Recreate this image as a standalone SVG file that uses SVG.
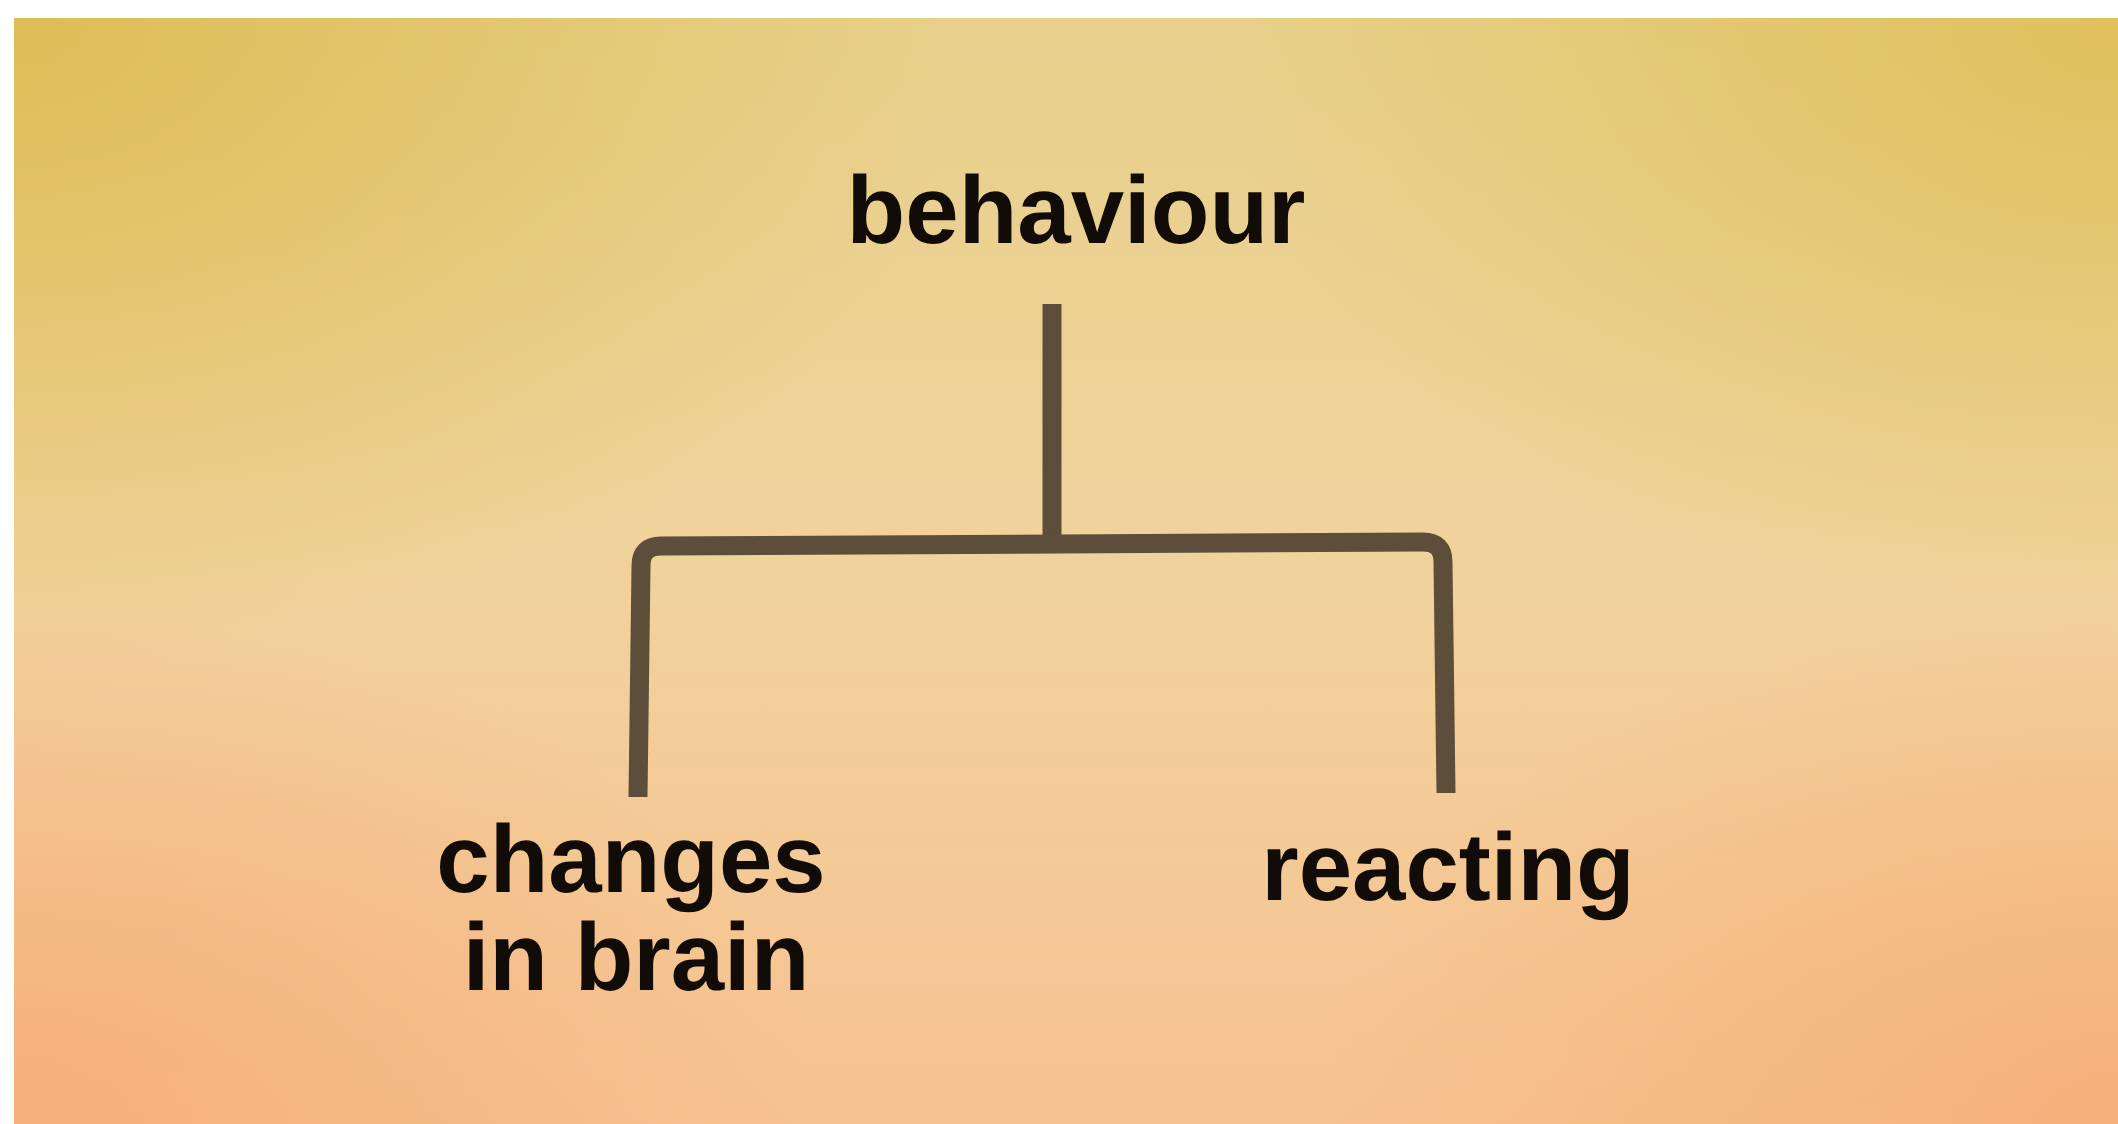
<svg xmlns="http://www.w3.org/2000/svg" width="2118" height="1124" viewBox="0 0 2118 1124">
  <defs>
    <linearGradient id="bgV" x1="0" y1="0" x2="0" y2="1">
      <stop offset="0" stop-color="#E7D08A"/>
      <stop offset="0.5" stop-color="#F1D29C"/>
      <stop offset="1" stop-color="#F6C290"/>
    </linearGradient>
    <radialGradient id="tl" cx="0" cy="0" r="1" gradientUnits="userSpaceOnUse" gradientTransform="translate(14 18) scale(950 650)">
      <stop offset="0" stop-color="#DDBB50" stop-opacity="0.9"/>
      <stop offset="1" stop-color="#DDBB50" stop-opacity="0"/>
    </radialGradient>
    <radialGradient id="tr" cx="0" cy="0" r="1" gradientUnits="userSpaceOnUse" gradientTransform="translate(2118 18) scale(900 600)">
      <stop offset="0" stop-color="#DFBF58" stop-opacity="0.9"/>
      <stop offset="1" stop-color="#DFBF58" stop-opacity="0"/>
    </radialGradient>
    <radialGradient id="bl" cx="0" cy="0" r="1" gradientUnits="userSpaceOnUse" gradientTransform="translate(14 1124) scale(800 520)">
      <stop offset="0" stop-color="#F4AC78" stop-opacity="0.85"/>
      <stop offset="1" stop-color="#F4AC78" stop-opacity="0"/>
    </radialGradient>
    <radialGradient id="br" cx="0" cy="0" r="1" gradientUnits="userSpaceOnUse" gradientTransform="translate(2118 1124) scale(800 520)">
      <stop offset="0" stop-color="#F4AE76" stop-opacity="0.85"/>
      <stop offset="1" stop-color="#F4AE76" stop-opacity="0"/>
    </radialGradient>
  </defs>
  <style>
    .lbl { font-family: "Liberation Sans", Arial, sans-serif; font-weight: bold; font-size: 96px; fill: #120C08; text-anchor: middle; text-rendering: geometricPrecision; }
    .conn { fill: none; stroke: #5C4E3A; stroke-width: 19; stroke-linecap: butt; stroke-linejoin: round; }
  </style>
  <rect x="0" y="0" width="2118" height="1124" fill="#FFFFFF"/>
  <g id="background">
    <rect x="14" y="18" width="2104" height="1106" fill="url(#bgV)"/>
    <rect x="14" y="18" width="2104" height="1106" fill="url(#tl)"/>
    <rect x="14" y="18" width="2104" height="1106" fill="url(#tr)"/>
    <rect x="14" y="18" width="2104" height="1106" fill="url(#bl)"/>
    <rect x="14" y="18" width="2104" height="1106" fill="url(#br)"/>
  </g>
  <g id="connectors">
    <path class="conn" d="M1052,304 L1052,543"/>
    <path class="conn" d="M638,797 L641,566 Q641,546 661,546 L1423,542 Q1443,542 1443,562 L1446,793"/>
  </g>
  <g id="node-behaviour">
    <text class="lbl" x="1076" y="243">behaviour</text>
  </g>
  <g id="node-changes-in-brain">
    <text class="lbl" x="631" y="892">changes</text>
    <text class="lbl" x="636" y="990">in brain</text>
  </g>
  <g id="node-reacting">
    <text class="lbl" x="1448" y="900">reacting</text>
  </g>
</svg>
